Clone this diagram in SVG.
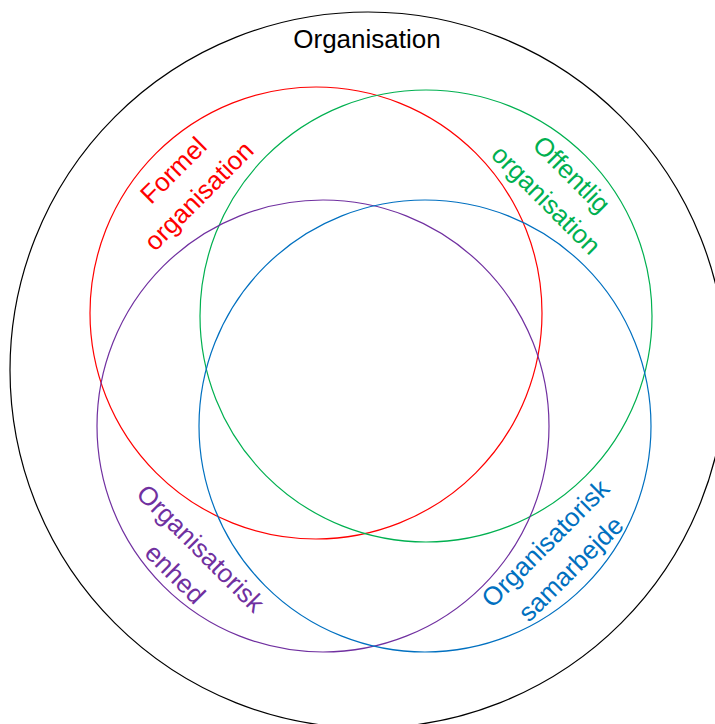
<svg xmlns="http://www.w3.org/2000/svg" width="715" height="724" viewBox="0 0 715 724">
<style>
.c{fill:none;stroke-width:1.2}
text{font-family:"Liberation Sans",Arial,sans-serif;font-size:26px;text-anchor:middle}
</style>
<rect width="715" height="724" fill="#fff"/>
<g id="organisation">
<circle class="c" cx="368" cy="370" r="358" stroke="#000"/>
<text x="367" y="48" fill="#000">Organisation</text>
</g>
<g id="formel">
<circle class="c" cx="316" cy="313" r="226" stroke="#FF0000"/>
<g transform="translate(186,183) rotate(-45)" fill="#FF0000">
<text x="0" y="-9">Formel</text>
<text x="0" y="27">organisation</text>
</g>
</g>
<g id="offentlig">
<circle class="c" cx="426" cy="316" r="226" stroke="#00B050"/>
<g transform="translate(559,187) rotate(45)" fill="#00B050">
<text x="0" y="-9">Offentlig</text>
<text x="0" y="27">organisation</text>
</g>
</g>
<g id="enhed">
<circle class="c" cx="323" cy="426" r="226" stroke="#7030A0"/>
<g transform="translate(188,561) rotate(45)" fill="#7030A0">
<text x="0" y="-9">Organisatorisk</text>
<text x="0" y="27">enhed</text>
</g>
</g>
<g id="samarbejde">
<circle class="c" cx="425" cy="426" r="226" stroke="#0070C0"/>
<g transform="translate(558,556) rotate(-45)" fill="#0070C0">
<text x="0" y="-9">Organisatorisk</text>
<text x="0" y="27">samarbejde</text>
</g>
</g>
<g id="connectors"/>
</svg>
